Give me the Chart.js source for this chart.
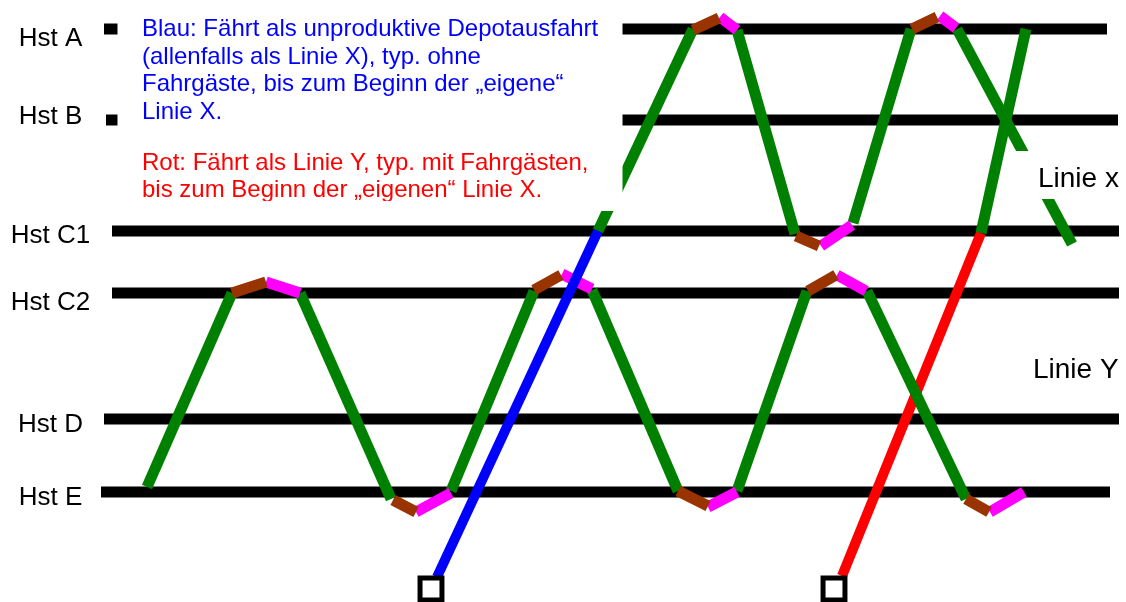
<!DOCTYPE html>
<html>
<head>
<meta charset="utf-8">
<title>Linie X / Linie Y</title>
<script src="https://cdn.jsdelivr.net/npm/chart.js@4.4.1/dist/chart.umd.min.js"></script>
<style>
  html, body { margin: 0; padding: 0; background: #fff; }
  #wrap { width: 1126px; height: 602px; }
</style>
</head>
<body>
<div id="wrap"><canvas id="bildfahrplan" width="1126" height="602"></canvas></div>
<script>
// Haltestellen (y = Lage im Bild, von/bis = Zeitachse)
const stations = ['Hst A', 'Hst B', 'Hst C1', 'Hst C2', 'Hst D', 'Hst E'];
const stationPos = [29, 120, 231, 293, 419, 492];
const stationFrom = [104, 106, 112, 112, 104, 101];
const stationTo = [1107, 1118, 1119, 1119, 1119, 1110];

// Linie Y : pendelt zwischen Hst E und Hst C2
const linieYRuns = [
  [[147, 487], [232, 293]],
  [[300, 293], [391, 499]],
  [[451, 491], [534, 291]],
  [[592, 290], [678, 491]],
  [[737, 491], [807, 291]],
  [[867, 291], [966, 499]]
];

// Linie X : pendelt zwischen Hst C1 und Hst A
const linieXRuns = [
  [[598, 231], [693, 29]],
  [[737, 30], [795, 234]],
  [[853, 223], [911, 29]],
  [[957, 29], [1072, 244]],
  [[981, 233], [1026, 29]]
];

// Wendezeiten (braun = Ankunft, magenta = Abfahrt)
const turnBrown = [
  [[232, 293], [266, 282]],
  [[393, 500], [416, 512]],
  [[534, 290], [561, 275]],
  [[678, 491], [708, 506]],
  [[808, 291], [836, 275]],
  [[966, 499], [989, 512]],
  [[693, 30], [719, 18]],
  [[796, 236], [819, 246]],
  [[912, 29], [937, 17]]
];
const turnMagenta = [
  [[266, 282], [300, 293]],
  [[416, 512], [451, 493]],
  [[562, 274], [592, 289]],
  [[708, 507], [737, 492]],
  [[837, 275], [866, 291]],
  [[990, 512], [1024, 492]],
  [[720, 17], [737, 30]],
  [[821, 246], [852, 225]],
  [[940, 16], [956, 28]]
];

// Depotausfahrten
const blueRun = [[437, 577], [598, 231]];
const redRun = [[842, 576], [981, 233]];
const depots = [[431, 589], [834, 589]];

const blueText = [
  'Blau: Fährt als unproduktive Depotausfahrt',
  '(allenfalls als Linie X), typ. ohne',
  'Fahrgäste, bis zum Beginn der „eigene“',
  'Linie X.'
];
const redText = [
  'Rot: Fährt als Linie Y, typ. mit Fahrgästen,',
  'bis zum Beginn der „eigenen“ Linie X.'
];

function pts(run) {
  return run.map(p => ({ x: p[0], y: p[1] }));
}
function seg(run, color, width, order) {
  return {
    data: pts(run),
    showLine: true,
    borderColor: color,
    borderWidth: width,
    borderCapStyle: 'butt',
    pointRadius: 0,
    fill: false,
    tension: 0,
    clip: false,
    order: order
  };
}

let datasets = [];
stations.forEach((s, i) => {
  datasets.push(seg([[stationFrom[i], stationPos[i]], [stationTo[i], stationPos[i]]], '#000000', 11, 9));
});
datasets.push(seg(redRun, '#ff0000', 10, 8));
linieYRuns.forEach(r => datasets.push(seg(r, '#008000', 11, 7)));
linieXRuns.forEach(r => datasets.push(seg(r, '#008000', 11, 7)));
turnBrown.forEach(r => datasets.push(seg(r, '#993300', 11, 6)));
turnMagenta.forEach(r => datasets.push(seg(r, '#ff00ff', 11, 6)));
datasets.push(seg(blueRun, '#0000ff', 10, 5));
datasets.push({
  data: pts(depots),
  showLine: false,
  pointStyle: 'rect',
  pointRadius: 15.5,
  pointBorderWidth: 5,
  pointBackgroundColor: '#ffffff',
  pointBorderColor: '#000000',
  clip: false,
  order: 4
});

// Textfelder (weiss hinterlegt) und Beschriftungen
const textPlugin = {
  id: 'texte',
  afterDatasetsDraw(chart) {
    const ctx = chart.ctx;
    const xs = chart.scales.x, ys = chart.scales.y;
    const px = v => xs.getPixelForValue(v);
    const py = v => ys.getPixelForValue(v);
    ctx.save();

    // weisse Textfelder
    ctx.fillStyle = '#ffffff';
    ctx.fillRect(px(117.5), py(0), px(622.5) - px(117.5), py(211) - py(0));
    ctx.fillRect(px(1010), py(151), px(1126) - px(1010), py(199) - py(151));

    // Legendentext
    ctx.save();
    ctx.beginPath();
    ctx.rect(px(117.5), py(0), px(622.5) - px(117.5), py(201) - py(0));
    ctx.clip();
    ctx.font = '24px "Liberation Sans", Arial, sans-serif';
    ctx.textAlign = 'left';
    ctx.textBaseline = 'alphabetic';
    ctx.fillStyle = '#0000ff';
    const blueBase = [36, 64, 91, 118.5];
    blueText.forEach((t, i) => ctx.fillText(t, px(142), py(blueBase[i])));
    ctx.fillStyle = '#ff0000';
    const redBase = [169.5, 197];
    redText.forEach((t, i) => ctx.fillText(t, px(142), py(redBase[i])));
    ctx.restore();

    // Haltestellennamen
    ctx.fillStyle = '#000000';
    ctx.font = '26px "Liberation Sans", Arial, sans-serif';
    ctx.textAlign = 'center';
    const labelOff = [17, 4, 12, 17, 13, 13];
    stations.forEach((s, i) => ctx.fillText(s, px(50.5), py(stationPos[i] + labelOff[i])));

    // Linienbezeichnungen
    ctx.font = '28px "Liberation Sans", Arial, sans-serif';
    ctx.textAlign = 'left';
    ctx.fillText('Linie x', px(1038), py(187));
    ctx.fillText('Linie Y', px(1033), py(378));
    ctx.restore();
  }
};

let ctx = document.getElementById('bildfahrplan');
let chart = new Chart(ctx, {
  type: 'scatter',
  data: { datasets: datasets },
  options: {
    responsive: false,
    animation: false,
    devicePixelRatio: 1,
    events: [],
    layout: { padding: 0, autoPadding: false },
    plugins: {
      legend: { display: false },
      tooltip: { enabled: false }
    },
    scales: {
      x: { type: 'linear', min: 0, max: 1126, display: false },
      y: { type: 'linear', min: 0, max: 602, reverse: true, display: false }
    }
  },
  plugins: [textPlugin]
});
</script>
</body>
</html>
